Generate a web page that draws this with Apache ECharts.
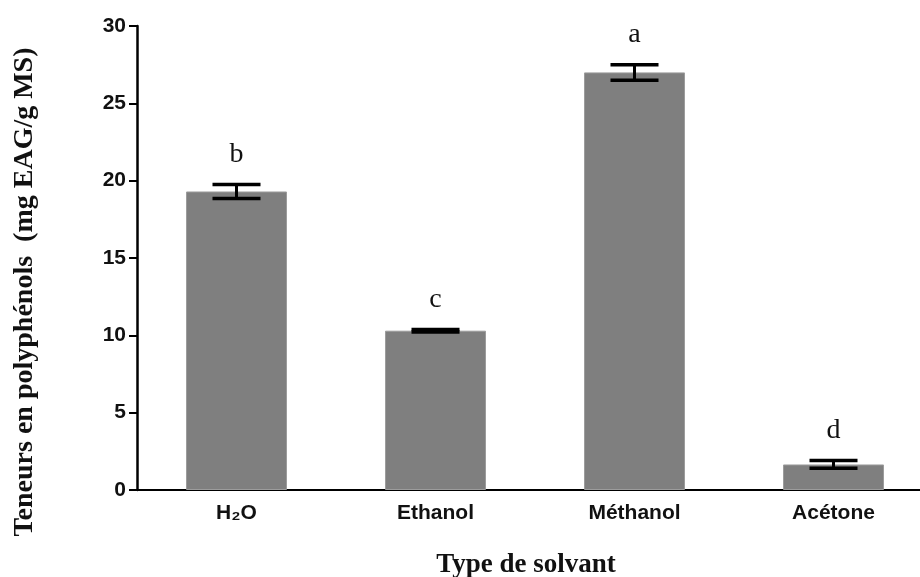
<!DOCTYPE html>
<html>
<head>
<meta charset="utf-8">
<script src="https://cdn.jsdelivr.net/npm/echarts@6/dist/echarts.min.js"></script>
<style>
html,body{margin:0;padding:0;background:#fff;}
#chart{width:920px;height:577px;}
</style>
</head>
<body>
<div id="chart"></div>
<script>
var solvants = ['H\u2082O', 'Ethanol', 'M\u00e9thanol', 'Ac\u00e9tone'];
var teneurs = [19.3, 10.3, 27.0, 1.65];
var ecarts = [0.45, 0.08, 0.5, 0.25];
var lettres = ['b', 'c', 'a', 'd'];
var yTicks = [0, 5, 10, 15, 20, 25, 30];

var myChart = echarts.init(document.getElementById('chart'));

var errData = teneurs.map(function (v, i) {
    return [i, v, ecarts[i], lettres[i]];
});

var option = {
    animation: false,
    grid: {
        left: 137,
        top: 26,
        bottom: 87,
        width: 796,
        outerBoundsMode: 'none',
        containLabel: false
    },
    graphic: [
        {
            type: 'text',
            x: 25,
            y: 292,
            rotation: Math.PI / 2,
            style: {
                text: 'Teneurs en polyph\u00e9nols  (mg EAG/g MS)',
                fill: '#111',
                font: 'bold 28px "Liberation Serif", "Times New Roman", serif',
                align: 'center',
                verticalAlign: 'middle'
            }
        },
        {
            type: 'text',
            x: 526,
            y: 565,
            style: {
                text: 'Type de solvant',
                fill: '#111',
                font: 'bold 27px "Liberation Serif", "Times New Roman", serif',
                align: 'center',
                verticalAlign: 'middle'
            }
        }
    ],
    xAxis: {
        type: 'category',
        data: solvants,
        axisLine: { lineStyle: { color: '#000', width: 2 } },
        axisTick: { alignWithLabel: true, length: 7, lineStyle: { color: '#000', width: 2 } },
        axisLabel: {
            color: '#111',
            fontFamily: 'Liberation Sans, Arial',
            fontWeight: 'bold',
            fontSize: 21,
            margin: 13
        }
    },
    yAxis: {
        type: 'value',
        min: 0,
        max: 30,
        interval: 5,
        splitLine: { show: false },
        axisLine: { show: true, lineStyle: { color: '#000', width: 2.5 } },
        axisTick: { show: true, length: 8, lineStyle: { color: '#000', width: 2 } },
        axisLabel: {
            color: '#111',
            fontFamily: 'Liberation Sans, Arial',
            fontWeight: 'bold',
            fontSize: 21,
            margin: 11,
            formatter: function (v) { return yTicks.indexOf(v) >= 0 ? String(v) : ''; }
        }
    },
    series: [
        {
            type: 'bar',
            data: teneurs,
            barWidth: 101,
            itemStyle: {
                color: '#7f7f7f',
                borderColor: '#9c9c9c',
                borderWidth: 1
            }
        },
        {
            type: 'custom',
            data: errData,
            z: 10,
            renderItem: function (params, api) {
                var i = api.value(0);
                var v = api.value(1);
                var e = api.value(2);
                var hi = api.coord([i, v + e]);
                var lo = api.coord([i, v - e]);
                var half = 24;
                return {
                    type: 'group',
                    children: [
                        { type: 'line', shape: { x1: hi[0], y1: hi[1], x2: lo[0], y2: lo[1] }, style: { stroke: '#000', lineWidth: 3 } },
                        { type: 'line', shape: { x1: hi[0] - half, y1: hi[1], x2: hi[0] + half, y2: hi[1] }, style: { stroke: '#000', lineWidth: 3.5 } },
                        { type: 'line', shape: { x1: lo[0] - half, y1: lo[1], x2: lo[0] + half, y2: lo[1] }, style: { stroke: '#000', lineWidth: 3.5 } },
                        {
                            type: 'text',
                            x: hi[0],
                            y: hi[1] - 16,
                            style: {
                                text: lettres[params.dataIndex],
                                fill: '#111',
                                font: '28px "Liberation Serif", "Times New Roman", serif',
                                align: 'center',
                                verticalAlign: 'bottom'
                            }
                        }
                    ]
                };
            }
        }
    ]
};
myChart.setOption(option);
</script>
</body>
</html>
